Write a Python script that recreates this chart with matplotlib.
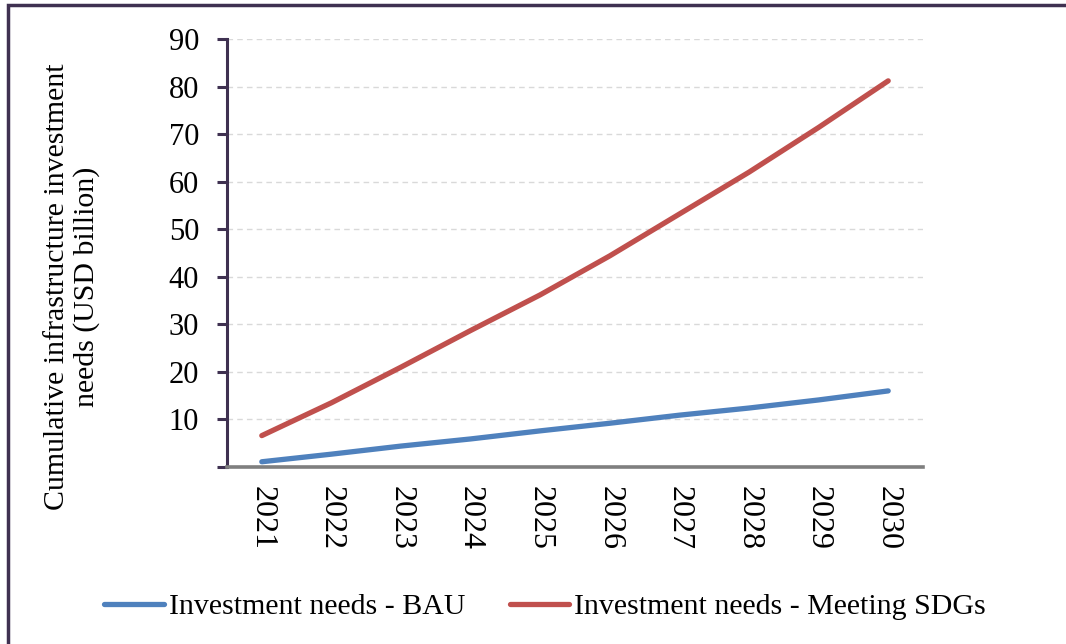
# Cumulative infrastructure investment needs, BAU vs meeting SDGs

import matplotlib.pyplot as plt
from matplotlib.patches import Rectangle

# Data
years = ['2021', '2022', '2023', '2024', '2025', '2026', '2027', '2028', '2029', '2030']
bau = [1.1, 2.7, 4.4, 5.9, 7.6, 9.2, 10.9, 12.4, 14.1, 16.0]
sdgs = [6.6, 13.5, 21.0, 28.7, 36.2, 44.4, 53.2, 62.0, 71.4, 81.2]
yticks = [0, 10, 20, 30, 40, 50, 60, 70, 80, 90]
ytick_labels = [''] + [str(v) for v in yticks[1:]]

plt.rcParams['font.family'] = ['Liberation Serif', 'DejaVu Serif']

fig = plt.figure(figsize=(10.66, 6.44), dpi=100)
ax = fig.add_axes([227 / 1066, 1 - 467 / 644, 696 / 1066, 428 / 644])

x = list(range(len(years)))
ax.plot(x, bau, color='#4F81BD', lw=3.8, solid_capstyle='round',
        label='Investment needs - BAU')
ax.plot(x, sdgs, color='#C0504D', lw=3.8, solid_capstyle='round',
        label='Investment needs - Meeting SDGs')

ax.set_xlim(-0.5, len(years) - 0.5)
ax.set_ylim(0, 90)
ax.set_yticks(yticks)
ax.set_yticklabels(ytick_labels, fontsize=22)
ax.set_xticks(x)
ax.set_xticklabels(years, rotation=270, fontsize=23)
ax.tick_params(axis='x', length=0, pad=14)
ax.tick_params(axis='y', length=7, width=2.2, color='#3F3151', pad=13)

ax.grid(axis='y', color='#D9D9D9', ls=(0, (4, 3)), lw=1)
ax.set_axisbelow(True)
for side in ['top', 'right']:
    ax.spines[side].set_visible(False)
ax.spines['left'].set_color('#3F3151')
ax.spines['left'].set_linewidth(2.2)
ax.spines['bottom'].set_color('#7F7F7F')
ax.spines['bottom'].set_linewidth(2.6)

fig.text(72 / 1066, 1 - 287 / 644,
         'Cumulative infrastructure investment\nneeds (USD billion)',
         rotation=90, ha='center', va='center', fontsize=21.5, linespacing=1.15)

fig.legend(loc='center', bbox_to_anchor=(545 / 1066, 1 - 607 / 644), ncol=2,
           frameon=False, fontsize=21.5, handlelength=2.0, handletextpad=0.15,
           columnspacing=1.5)

# outer frame (only top and left edges are visible in the crop)
fig.add_artist(Rectangle((8 / 1066, -0.1), 1.2, 1 - 5 / 644 + 0.1,
                         transform=fig.transFigure, fill=False,
                         edgecolor='#3F3151', lw=2.5))

fig.savefig('out.png', dpi=100)
